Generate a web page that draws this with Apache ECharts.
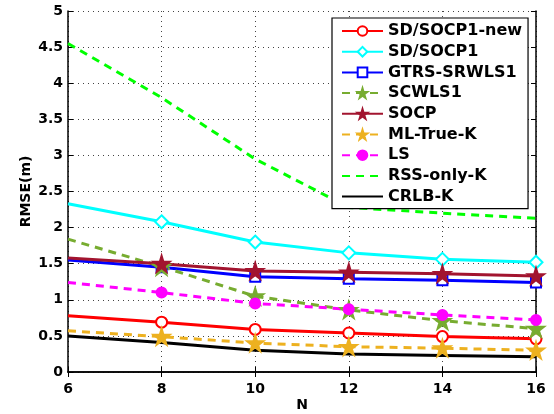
<!DOCTYPE html>
<html>
<head>
<meta charset="utf-8">
<script src="https://cdn.jsdelivr.net/npm/echarts@6/dist/echarts.min.js"></script>
<style>
  html, body { margin: 0; padding: 0; background: #fff; }
  #chart { width: 554px; height: 414px; }
</style>
</head>
<body>
<div id="chart"></div>
<script>
// values
const N = [6, 8, 10, 12, 14, 16]
const sdSocp1New = [0.78, 0.69, 0.59, 0.54, 0.49, 0.46]
const sdSocp1 = [2.33, 2.08, 1.80, 1.65, 1.56, 1.52]
const gtrsSrwls1 = [1.55, 1.45, 1.32, 1.29, 1.27, 1.24]
const scwls1 = [1.84, 1.46, 1.05, 0.86, 0.71, 0.60]
const socp = [1.58, 1.50, 1.40, 1.38, 1.36, 1.33]
const mlTrueK = [0.57, 0.49, 0.40, 0.35, 0.33, 0.30]
const ls = [1.24, 1.10, 0.95, 0.87, 0.79, 0.72]
const rssOnlyK = [4.55, 3.80, 2.95, 2.28, 2.20, 2.13]
const crlbK = [0.50, 0.41, 0.30, 0.25, 0.23, 0.21]

const FONT = "'DejaVu Sans', sans-serif"
const STAR = 'path://M50,0 L61,35 L98,35 L68,57 L79,91 L50,70 L21,91 L32,57 L2,35 L39,35 Z'

// the figure draws no marker on the first point (N = 6)
function pairs(values) {
  return values.map((v, i) => i === 0 ? { value: [N[i], v], symbol: 'none' } : [N[i], v])
}

function line(name, values, color, symbol, symbolSize, dashed) {
  const noMarker = symbol === 'none'
  return {
    name: name,
    type: 'line',
    data: pairs(values),
    // series without markers keep an invisible symbol so the legend shows only the line
    symbol: noMarker ? 'circle' : symbol,
    symbolSize: symbolSize,
    showSymbol: !noMarker,
    itemStyle: noMarker
      ? { color: 'rgba(0,0,0,0)', borderWidth: 0 }
      : { color: color, borderColor: color, borderWidth: 2 },
    lineStyle: { color: color, width: 3, type: dashed ? [8, 6] : 'solid' },
    emphasis: { disabled: true },
    animation: false,
    z: 3
  }
}

const series = [
  line('SD/SOCP1-new', sdSocp1New, '#ff0000', 'emptyCircle', 11),
  line('SD/SOCP1', sdSocp1, '#00ffff', 'emptyDiamond', 13),
  line('GTRS-SRWLS1', gtrsSrwls1, '#0000ff', 'emptyRect', 10),
  line('SCWLS1', scwls1, '#77ac30', STAR, 16, true),
  line('SOCP', socp, '#a2142f', STAR, 16),
  line('ML-True-K', mlTrueK, '#edb120', STAR, 16, true),
  line('LS', ls, '#ff00ff', 'circle', 10, true),
  line('RSS-only-K', rssOnlyK, '#00ff00', 'none', 0, true),
  line('CRLB-K', crlbK, '#000000', 'none', 0)
]

const axisLabel = { color: '#000', fontFamily: FONT, fontWeight: 'bold', fontSize: 14 }

const option = {
  animation: false,
  grid: { left: 68, right: 18, top: 11, bottom: 42, outerBoundsMode: 'none' },
  legend: {
    left: 332,
    top: 18,
    orient: 'vertical',
    itemWidth: 41,
    itemHeight: 12,
    itemGap: 4.7,
    padding: [5, 6, 4, 9],
    backgroundColor: '#fff',
    borderColor: '#000',
    borderWidth: 1.2,
    textStyle: { color: '#000', fontFamily: FONT, fontWeight: 'bold', fontSize: 16, lineHeight: 16 },
    data: series.map(s => s.name)
  },
  xAxis: [
    {
      type: 'value',
      min: 6, max: 16, interval: 2,
      name: 'N',
      nameLocation: 'middle',
      nameGap: 26,
      nameMoveOverlap: false,
      nameTextStyle: axisLabel,
      axisLine: { lineStyle: { color: '#000', width: 1.5 } },
      axisTick: { inside: true, length: 5, lineStyle: { color: '#000' } },
      axisLabel: Object.assign({ margin: 10 }, axisLabel),
      splitLine: { show: true, lineStyle: { color: '#444', type: [1, 4], width: 1 } }
    },
    {
      type: 'value', position: 'top',
      min: 6, max: 16, interval: 2,
      axisLine: { show: true, lineStyle: { color: '#000', width: 1.5 } },
      axisTick: { show: true, inside: true, length: 5, lineStyle: { color: '#000' } },
      axisLabel: { show: false },
      splitLine: { show: false }
    }
  ],
  yAxis: [
    {
      type: 'value',
      min: 0, max: 5, interval: 0.5,
      name: 'RMSE(m)',
      nameLocation: 'middle',
      nameGap: 35,
      nameMoveOverlap: false,
      nameTextStyle: axisLabel,
      axisLine: { show: true, lineStyle: { color: '#000', width: 1.5 } },
      axisTick: { show: true, inside: true, length: 5, lineStyle: { color: '#000' } },
      axisLabel: Object.assign({ margin: 5 }, axisLabel),
      splitLine: { show: true, lineStyle: { color: '#444', type: [1, 4], width: 1 } }
    },
    {
      type: 'value', position: 'right',
      min: 0, max: 5, interval: 0.5,
      axisLine: { show: true, lineStyle: { color: '#000', width: 1.5 } },
      axisTick: { show: true, inside: true, length: 5, lineStyle: { color: '#000' } },
      axisLabel: { show: false },
      splitLine: { show: false }
    }
  ],
  series: series
}

const myChart = echarts.init(document.getElementById('chart'))
myChart.setOption(option)
</script>
</body>
</html>
